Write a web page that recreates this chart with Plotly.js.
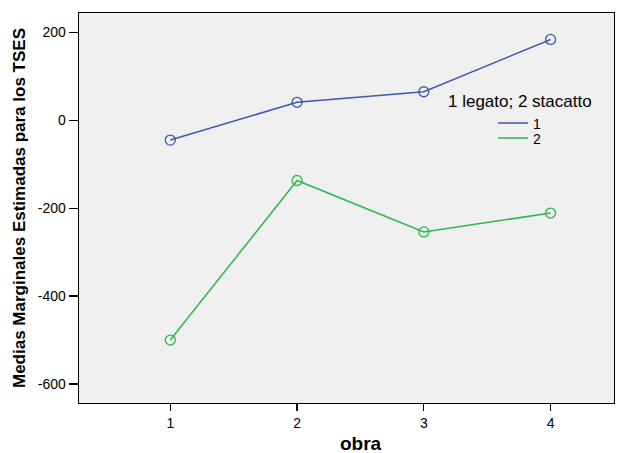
<!DOCTYPE html>
<html>
<head>
<meta charset="utf-8">
<script src="https://cdn.plot.ly/plotly-3.0.1.min.js"></script>
<style>html,body{margin:0;padding:0;background:#fff;}#chart{width:629px;height:453px;}</style>
</head>
<body>
<div id="chart"></div>
<script>
const obra = [1, 2, 3, 4];
const legato = [-45, 41, 65, 184];
const stacatto = [-500, -137, -254, -211];
const seriesNames = ["1", "2"];
const seriesColors = ["#3e58ac", "#2db84a"];
const legendTitle = "1 legato; 2 stacatto";
const xTitle = "obra";
const yTitle = "Medias Marginales Estimadas para los TSES";
const yTickVals = [-600, -400, -200, 0, 200];
const yTickText = ["-600", "-400", "-200", "0", "200"];
const xTickVals = [1, 2, 3, 4];
const xTickText = ["1", "2", "3", "4"];

const FONT = "Liberation Sans, Arial, sans-serif";
const seriesValues = [legato, stacatto];
const traces = [];
seriesValues.forEach((vals, i) => {
  traces.push({x: obra, y: vals, name: seriesNames[i], type: "scatter", mode: "lines+markers",
    showlegend: false,
    line: {color: seriesColors[i], width: 1.5},
    marker: {symbol: "circle-open", size: 10, color: seriesColors[i], line: {width: 1.3}}});
});
// legend-only line entries (reference legend shows lines without markers)
seriesValues.forEach((vals, i) => {
  traces.push({x: [null], y: [null], name: seriesNames[i], type: "scatter", mode: "lines",
    showlegend: true, legend: i === 0 ? "legend" : "legend2",
    line: {color: seriesColors[i], width: 1.5}});
});

const legBase = {xanchor: "left", yanchor: "top", bgcolor: "rgba(0,0,0,0)",
  font: {family: FONT, size: 14, color: "#000"}, itemwidth: 30};

const layout = {
  width: 629, height: 453,
  margin: {l: 79, r: 15, t: 13, b: 50, pad: 0},
  paper_bgcolor: "#ffffff",
  plot_bgcolor: "#f0f0f0",
  font: {family: FONT, size: 14, color: "#000"},
  showlegend: true,
  legend: Object.assign({x: 0.774, y: 0.7577}, legBase),
  legend2: Object.assign({x: 0.774, y: 0.7192}, legBase),
  xaxis: {range: [0.28, 4.5], tickvals: xTickVals, ticktext: xTickText,
          showgrid: false, zeroline: false, showline: true, mirror: true,
          linecolor: "#000", linewidth: 1.3, ticks: "outside", ticklen: 7, tickwidth: 1.3, tickcolor: "#000",
          tickfont: {family: FONT, size: 14}, fixedrange: true},
  yaxis: {range: [-643.3, 244.2], tickvals: yTickVals, ticktext: yTickText,
          showgrid: false, zeroline: false, showline: true, mirror: true,
          linecolor: "#000", linewidth: 1.3, ticks: "outside", ticklen: 9, tickwidth: 1.3, tickcolor: "#000",
          tickfont: {family: FONT, size: 14}, fixedrange: true,
          title: {text: yTitle, font: {family: FONT, size: 17, weight: "bold"}, standoff: 8}},
  annotations: [
    {text: legendTitle, xref: "paper", yref: "paper", x: 0.825, y: 0.774,
     xanchor: "center", yanchor: "middle", showarrow: false,
     font: {family: FONT, size: 17, color: "#000"}},
    {text: xTitle, xref: "paper", yref: "paper", x: 0.527, y: -0.1026,
     xanchor: "center", yanchor: "middle", showarrow: false,
     font: {family: FONT, size: 19, weight: "bold", color: "#000"}}
  ]
};

Plotly.newPlot("chart", traces, layout, {displayModeBar: false, staticPlot: true});
</script>
</body>
</html>
